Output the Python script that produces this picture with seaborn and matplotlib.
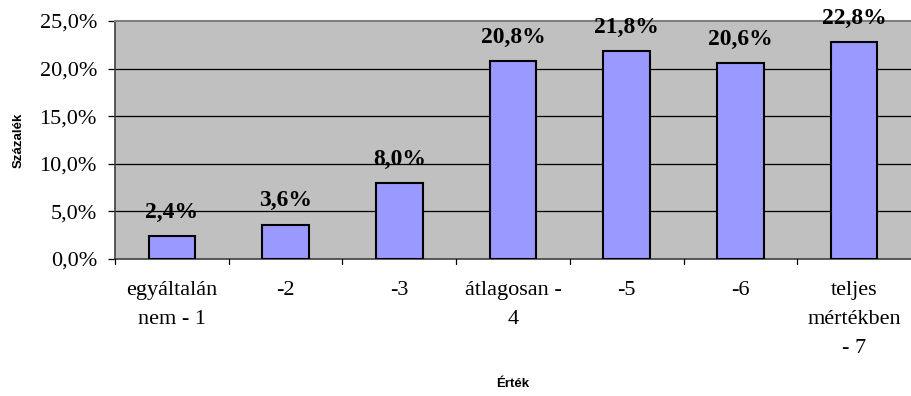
import matplotlib
matplotlib.use("Agg")
import matplotlib.pyplot as plt
import seaborn as sns
import pandas as pd

categories = ["egyáltalán\nnem - 1", "-2", "-3", "átlagosan -\n4", "-5", "-6",
              "teljes\nmértékben\n- 7"]
values = [2.4, 3.6, 8.0, 20.8, 21.8, 20.6, 22.8]
y_ticks = [0, 5, 10, 15, 20, 25]

df = pd.DataFrame({"cat": categories, "val": values})

sns.set_theme(style="white")
plt.rcParams["font.family"] = ["Liberation Serif", "DejaVu Serif"]
plt.rcParams.update({"text.color": "black", "axes.labelcolor": "black",
                     "xtick.color": "black", "ytick.color": "black"})

fig = plt.figure(figsize=(9.11, 3.96), dpi=100)
ax = fig.add_axes([115 / 911, 1 - 259 / 396, 1 - 115 / 911, 238 / 396])
ax.set_facecolor("#C0C0C0")

sns.barplot(data=df, x="cat", y="val", ax=ax, color="#9999FF",
            edgecolor="black", linewidth=1.5, width=0.41, saturation=1,
            zorder=3)

ax.set_ylim(0, 25)
ax.set_xlim(-0.5, len(categories) - 0.5)
ax.set_yticks(y_ticks)
ax.set_yticklabels([f"{t:.1f}%".replace(".", ",") for t in y_ticks],
                   fontsize=16)
for t in y_ticks[1:-1]:
    ax.axhline(t, color="black", linewidth=0.9, zorder=1)

# category tick labels centered on bars, tick marks between categories
ax.set_xticks(range(len(categories)))
ax.set_xticklabels(categories, fontsize=16, linespacing=1.7)
ax.tick_params(axis="x", length=0, pad=16)
for b in range(len(categories)):
    ax.plot([b - 0.5, b - 0.5], [0, -0.5], color="black", linewidth=0.9,
            clip_on=False, zorder=4)
ax.tick_params(axis="y", direction="out", length=5, width=0.9, color="black",
               left=True, pad=8)

for spine in ["left", "bottom"]:
    ax.spines[spine].set_color("#404040")
    ax.spines[spine].set_linewidth(1.2)
ax.spines["top"].set_color("#808080")
ax.spines["top"].set_linewidth(1.5)
ax.spines["right"].set_visible(False)

for i, v in enumerate(values):
    ax.text(i, v + 1.4, f"{v:.1f}%".replace(".", ","), ha="center",
            va="bottom", fontsize=17, fontweight="bold", color="black",
            zorder=5)

ax.set_xlabel("Érték", fontsize=9.5, fontweight="bold",
              family=["Liberation Sans", "DejaVu Sans"])
ax.set_ylabel("Százalék", fontsize=9.5, fontweight="bold",
              family=["Liberation Sans", "DejaVu Sans"])
ax.xaxis.set_label_coords(0.5, -0.50)
ax.yaxis.set_label_coords(-0.113, 0.5)

fig.savefig("out.png", dpi=100)
